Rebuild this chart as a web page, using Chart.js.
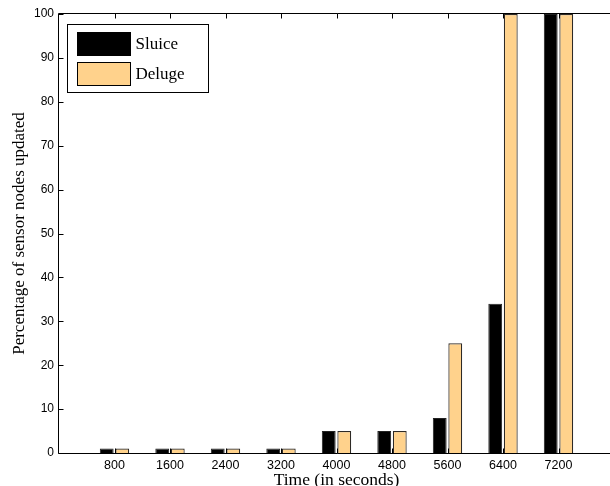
<!DOCTYPE html>
<html>
<head>
<meta charset="utf-8">
<script src="https://cdn.jsdelivr.net/npm/chart.js@4/dist/chart.umd.min.js"></script>
<style>
  html, body { margin: 0; padding: 0; overflow: hidden; background: #fff; }
  #wrap { width: 610px; height: 486px; overflow: hidden; position: relative; }
  canvas { display: block; }
</style>
</head>
<body>
<div id="wrap"><canvas id="c" width="619" height="486"></canvas></div>
<script>
// Completion time points (seconds) and percentage of nodes updated per protocol
const times  = [800, 1600, 2400, 3200, 4000, 4800, 5600, 6400, 7200];
const sluice = [1, 1, 1, 1, 5, 5, 8, 34, 100];
const deluge = [1, 1, 1, 1, 5, 5, 25, 100, 100];
const yTicks = [0, 10, 20, 30, 40, 50, 60, 70, 80, 90, 100];

// The time axis runs from 0 to 8000 s; the two end slots stay empty
const labels = ['', ...times.map(String), ''];
const pad = arr => [null, ...arr, null];

const SERIF = '"Liberation Serif", "Times New Roman", serif';
const SANS = '"Liberation Sans", Arial, Helvetica, sans-serif';

Chart.defaults.font.family = SANS;
Chart.defaults.color = '#000';

// Axis frame with inward tick marks
const framePlugin = {
  id: 'frame',
  afterDatasetsDraw(chart) {
    const { ctx, chartArea: { left, right, top, bottom }, scales: { x, y } } = chart;
    ctx.save();
    ctx.strokeStyle = '#000';
    ctx.lineWidth = 1;
    ctx.beginPath();
    const L = Math.round(left) - 0.5, T = Math.round(top) - 0.5, B = Math.round(bottom) + 0.5;
    ctx.moveTo(right + 2, T); ctx.lineTo(L, T); ctx.lineTo(L, B); ctx.lineTo(right + 2, B);
    yTicks.forEach(v => {
      const py = Math.round(y.getPixelForValue(v)) + 0.5;
      ctx.moveTo(L, py); ctx.lineTo(L + 5, py);
    });
    times.forEach((t, i) => {
      const px = Math.round(x.getPixelForValue(i + 1)) + 0.5;
      ctx.moveTo(px, T); ctx.lineTo(px, T + 5);
      ctx.moveTo(px, B); ctx.lineTo(px, B - 5);
    });
    ctx.stroke();
    ctx.restore();
  }
};

// Boxed legend in the upper-left corner of the plot
const legendPlugin = {
  id: 'boxLegend',
  afterDraw(chart) {
    const { ctx, chartArea: { left, top } } = chart;
    const bx = left + 8.5, by = top + 10.5, bw = 141, bh = 68;
    ctx.save();
    ctx.fillStyle = '#fff';
    ctx.fillRect(bx, by, bw, bh);
    ctx.strokeStyle = '#000';
    ctx.lineWidth = 1;
    ctx.strokeRect(bx, by, bw, bh);
    chart.data.datasets.forEach((ds, i) => {
      const sy = by + 8 + i * 30;
      ctx.fillStyle = ds.backgroundColor;
      ctx.fillRect(bx + 10, sy, 53, 23);
      ctx.strokeStyle = '#000';
      ctx.strokeRect(bx + 10, sy, 53, 23);
      ctx.fillStyle = '#000';
      ctx.font = '17px ' + SERIF;
      ctx.textBaseline = 'middle';
      ctx.textAlign = 'left';
      ctx.fillText(ds.label, bx + 68, sy + 12);
    });
    ctx.restore();
  }
};

new Chart(document.getElementById('c'), {
  type: 'bar',
  data: {
    labels: labels,
    datasets: [
      {
        label: 'Sluice',
        data: pad(sluice),
        backgroundColor: '#000000',
        borderColor: '#222222',
        borderWidth: 1,
        borderSkipped: 'start'
      },
      {
        label: 'Deluge',
        data: pad(deluge),
        backgroundColor: '#FFD28C',
        borderColor: '#2e2a26',
        borderWidth: 1.2,
        borderSkipped: 'start'
      }
    ]
  },
  options: {
    responsive: false,
    animation: false,
    devicePixelRatio: 1,
    categoryPercentage: 0.56,
    barPercentage: 0.89,
    layout: { padding: { top: 14, right: 0, left: 0, bottom: 0 } },
    plugins: {
      legend: { display: false },
      tooltip: { enabled: false }
    },
    scales: {
      x: {
        offset: false,
        grid: { display: false, drawTicks: false },
        border: { display: false },
        ticks: {
          font: { size: 12.5, family: SANS },
          padding: 5,
          maxRotation: 0,
          autoSkip: false
        },
        title: {
          display: true,
          text: 'Time (in seconds)',
          font: { size: 17.5, family: SERIF, lineHeight: 1 },
          padding: { top: 0, bottom: -3 }
        },
        afterFit(scale) { scale.height = 33; }
      },
      y: {
        min: 0,
        max: 100,
        grid: { display: false, drawTicks: false },
        border: { display: false },
        afterBuildTicks(scale) { scale.ticks = yTicks.map(v => ({ value: v })); },
        ticks: {
          font: { size: 12, family: SANS },
          padding: 5
        },
        title: {
          display: true,
          text: 'Percentage of sensor nodes updated',
          font: { size: 17, family: SERIF, lineHeight: 1.2 },
          padding: { top: 9, bottom: 0 }
        },
        afterFit(scale) { scale.width = 59; }
      }
    }
  },
  plugins: [framePlugin, legendPlugin]
});
</script>
</body>
</html>
